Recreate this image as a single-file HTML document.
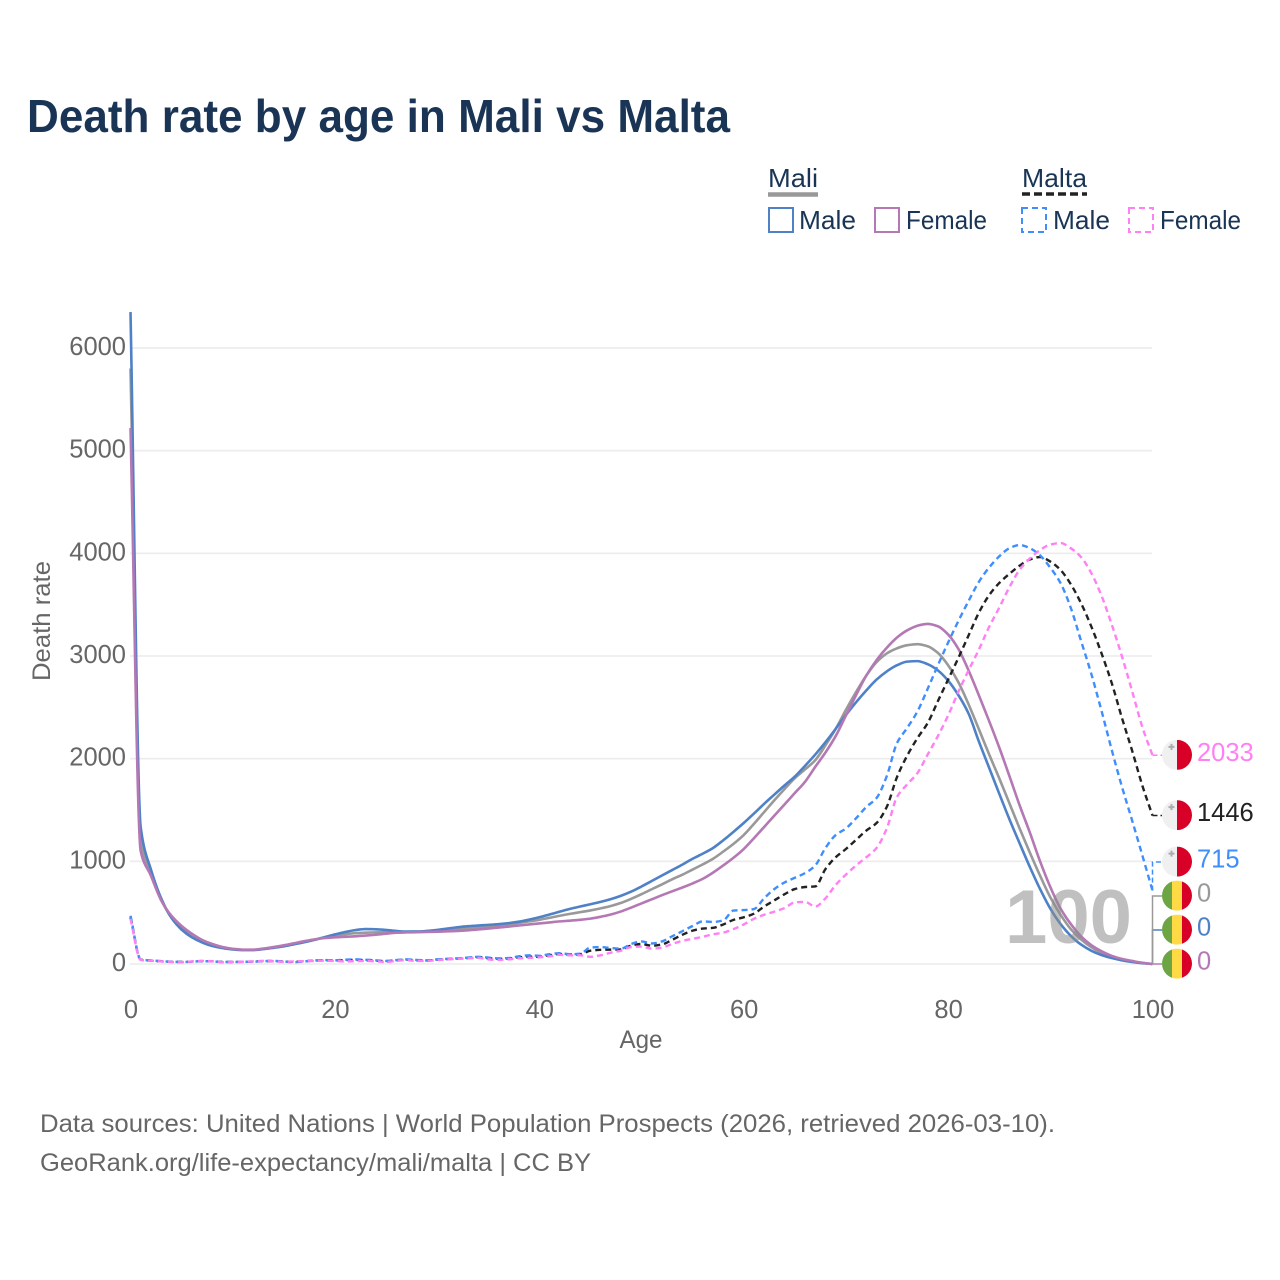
<!DOCTYPE html>
<html lang="en">
<head>
<meta charset="utf-8">
<title>Death rate by age in Mali vs Malta</title>
<style>
html,body{margin:0;padding:0;background:#fff;width:1280px;height:1280px;overflow:hidden}
svg{display:block;font-family:"Liberation Sans",sans-serif}
</style>
</head>
<body>
<svg id="chart" width="1280" height="1280" viewBox="0 0 1280 1280" xmlns="http://www.w3.org/2000/svg">
  <rect width="1280" height="1280" fill="#fff"/>
  <text x="27" y="132" font-size="46" font-weight="700" fill="#1a3455" textLength="703" lengthAdjust="spacingAndGlyphs">Death rate by age in Mali vs Malta</text>

  <g font-size="26" fill="#1a3455">
    <text x="768" y="187" textLength="50" lengthAdjust="spacingAndGlyphs">Mali</text>
    <line x1="768" x2="818" y1="194.5" y2="194.5" stroke="#999" stroke-width="4.5"/>
    <text x="1022" y="187" textLength="65" lengthAdjust="spacingAndGlyphs">Malta</text>
    <line x1="1022" x2="1087" y1="194" y2="194" stroke="#222" stroke-width="3.5" stroke-dasharray="8 4"/>
    <rect x="769" y="208" width="24" height="24" fill="none" stroke="#4f81c7" stroke-width="2"/>
    <text x="799" y="229" textLength="57" lengthAdjust="spacingAndGlyphs">Male</text>
    <rect x="875" y="208" width="24" height="24" fill="none" stroke="#b478b4" stroke-width="2"/>
    <text x="906" y="229" textLength="81" lengthAdjust="spacingAndGlyphs">Female</text>
    <rect x="1022" y="208" width="24" height="24" fill="none" stroke="#3f8efc" stroke-width="2" stroke-dasharray="6 4"/>
    <text x="1053" y="229" textLength="57" lengthAdjust="spacingAndGlyphs">Male</text>
    <rect x="1129" y="208" width="24" height="24" fill="none" stroke="#ff80f4" stroke-width="2" stroke-dasharray="6 4"/>
    <text x="1160" y="229" textLength="81" lengthAdjust="spacingAndGlyphs">Female</text>
  </g>

  <g id="grid"></g>
  <g id="yticks"></g>
  <g id="xticks"></g>
  <text transform="translate(50,621) rotate(-90)" text-anchor="middle" font-size="25" fill="#666" textLength="120" lengthAdjust="spacingAndGlyphs">Death rate</text>
  <text x="641" y="1048" text-anchor="middle" font-size="25" fill="#666" textLength="43" lengthAdjust="spacingAndGlyphs">Age</text>

  <g id="series"></g>
  <text x="1005" y="943" font-size="76" font-weight="700" fill="#8c8c8c" fill-opacity="0.55" textLength="127" lengthAdjust="spacingAndGlyphs">100</text>
  <g id="endlabels"></g>

  <text x="40" y="1132" font-size="25" fill="#666" textLength="1015" lengthAdjust="spacingAndGlyphs">Data sources: United Nations | World Population Prospects (2026, retrieved 2026-03-10).</text>
  <text x="40" y="1171" font-size="25" fill="#666" textLength="551" lengthAdjust="spacingAndGlyphs">GeoRank.org/life-expectancy/mali/malta | CC BY</text>
</svg>
<script>
const xTickValues = [0, 20, 40, 60, 80, 100];
const yTickValues = [0, 1000, 2000, 3000, 4000, 5000, 6000];

const maliTotal = [5800,1210,890,625,455,345,270,215,180,158,145,138,138,146,160,175,195,215,236,258,275,290,300,305,308,310,312,314,316,320,325,330,338,348,355,366,376,388,400,415,430,450,470,488,505,522,542,565,595,635,680,728,775,825,870,920,970,1025,1095,1170,1256,1365,1480,1595,1705,1810,1895,1985,2130,2290,2475,2650,2810,2940,3025,3075,3105,3115,3095,3030,2910,2745,2530,2290,2045,1810,1565,1320,1085,860,650,480,340,240,165,110,72,45,25,10,0];
const maliMale = [6350,1330,920,640,450,335,260,210,175,155,142,136,136,145,158,172,192,212,235,262,288,312,330,340,338,332,322,316,316,322,332,345,358,368,375,381,388,398,412,432,455,482,510,537,560,582,605,632,665,705,755,808,862,915,968,1025,1075,1130,1205,1287,1373,1465,1560,1650,1740,1825,1930,2040,2160,2290,2425,2550,2665,2770,2850,2910,2945,2950,2920,2860,2760,2620,2440,2170,1915,1660,1410,1175,945,730,540,390,275,190,130,88,58,36,20,8,0];
const maliFemale = [5220,1100,860,620,470,370,295,235,195,165,148,140,140,150,165,182,202,222,240,252,260,265,270,277,285,295,305,308,310,312,315,318,322,328,336,345,355,365,375,385,395,405,415,422,430,442,460,482,512,550,590,630,670,708,745,785,830,890,960,1035,1120,1225,1335,1445,1555,1665,1775,1920,2060,2220,2420,2620,2810,2960,3080,3180,3250,3295,3312,3290,3210,3070,2860,2620,2370,2110,1830,1545,1280,1000,750,540,390,270,185,125,80,50,30,12,0];
const maltaTotal = [455,42,33,26,22,20,24,28,26,20,20,22,24,28,28,24,22,26,33,36,34,38,40,38,32,28,36,42,36,34,42,48,52,58,66,56,50,52,65,72,70,85,98,92,95,130,138,140,142,180,195,178,190,235,285,325,345,352,385,430,455,490,560,620,680,730,750,755,925,1040,1120,1210,1300,1373,1530,1821,2030,2200,2347,2560,2770,2980,3200,3420,3590,3710,3800,3880,3940,3964,3920,3838,3700,3516,3290,3029,2740,2400,2080,1740,1446];
const maltaMale = [470,45,35,28,22,20,22,28,25,20,20,22,22,28,30,25,18,25,35,38,36,42,45,42,36,30,38,45,40,35,45,50,55,62,70,62,55,58,75,85,80,95,105,95,100,160,165,155,150,195,220,200,220,270,320,370,415,410,425,520,525,535,640,730,795,840,885,960,1130,1256,1320,1420,1530,1617,1830,2152,2300,2460,2680,2910,3130,3340,3535,3720,3860,3970,4050,4080,4050,3980,3860,3710,3470,3150,2830,2470,2090,1730,1400,1060,715];
const maltaFemale = [440,40,32,25,20,18,25,30,26,18,20,22,25,30,26,22,25,28,30,32,30,25,28,30,26,20,30,38,30,30,38,45,50,55,60,45,40,45,55,60,65,75,90,85,85,70,85,110,130,165,170,150,160,195,225,245,265,290,305,340,385,440,480,510,545,600,605,560,640,770,870,960,1040,1130,1320,1627,1750,1860,2040,2220,2420,2650,2860,3060,3280,3470,3670,3840,3950,4032,4085,4100,4050,3964,3810,3590,3310,3000,2660,2310,2033];

const NS = 'http://www.w3.org/2000/svg';
function xScale(age) { return 130.5 + age * 10.22; }
function yScale(v) { return 964 - v * 0.10267; }

const grid = document.getElementById('grid');
const yticks = document.getElementById('yticks');
const xticks = document.getElementById('xticks');
const seriesG = document.getElementById('series');
const labelsG = document.getElementById('endlabels');

function make(tag, attrs, parent) {
  const el = document.createElementNS(NS, tag);
  for (const k in attrs) el.setAttribute(k, attrs[k]);
  parent.appendChild(el);
  return el;
}

/* monotone cubic path through the data points */
function monotonePath(values) {
  const n = values.length;
  const ys = values.map(yScale);
  const h = xScale(1) - xScale(0);
  const sl = [];
  for (let i = 0; i < n - 1; i++) sl.push((ys[i + 1] - ys[i]) / h);
  const m = [sl[0]];
  for (let i = 1; i < n - 1; i++) {
    if (sl[i - 1] * sl[i] <= 0) m.push(0);
    else m.push(2 * sl[i - 1] * sl[i] / (sl[i - 1] + sl[i]));
  }
  m.push(sl[n - 2]);
  let d = 'M' + xScale(0).toFixed(2) + ' ' + ys[0].toFixed(2);
  for (let i = 0; i < n - 1; i++) {
    const x0 = xScale(i), x1 = xScale(i + 1);
    d += 'C' + (x0 + h / 3).toFixed(2) + ' ' + (ys[i] + m[i] * h / 3).toFixed(2) + ' ' +
         (x1 - h / 3).toFixed(2) + ' ' + (ys[i + 1] - m[i + 1] * h / 3).toFixed(2) + ' ' +
         x1.toFixed(2) + ' ' + ys[i + 1].toFixed(2);
  }
  return d;
}

yTickValues.forEach(function (v) {
  const line = make('line', { x1: 130, x2: 1152, y1: yScale(v), y2: yScale(v), stroke: '#ececec', 'stroke-width': 1.6 }, grid);
  
  
  const t = make('text', { x: 126, y: yScale(v) + 7, 'text-anchor': 'end', 'font-size': 25.5, fill: '#666' }, yticks);
  t.textContent = v;
  
  
});

xTickValues.forEach(function (a) {
  const t = make('text', { x: xScale(a) + 0.5, y: 1018, 'text-anchor': 'middle', 'font-size': 25.5, fill: '#666' }, xticks);
  t.textContent = a;
  
  
});

const seriesDefs = [
  { key: 'mali-total', values: maliTotal, color: '#999999', textColor: '#999999', dash: '', flag: 'mali', width: 2.6 },
  { key: 'mali-male', values: maliMale, color: '#4f81c7', textColor: '#4f81c7', dash: '', flag: 'mali', width: 2.6 },
  { key: 'mali-female', values: maliFemale, color: '#b478b4', textColor: '#b478b4', dash: '', flag: 'mali', width: 2.6 },
  { key: 'malta-total', values: maltaTotal, color: '#222222', textColor: '#222222', dash: '6 4', flag: 'malta', width: 2.4 },
  { key: 'malta-male', values: maltaMale, color: '#3f8efc', textColor: '#3f8efc', dash: '6 4', flag: 'malta', width: 2.4 },
  { key: 'malta-female', values: maltaFemale, color: '#ff80f4', textColor: '#ff80f4', dash: '6 4', flag: 'malta', width: 2.4 }
];

seriesDefs.forEach(function (s) {
  const p = make('path', { d: monotonePath(s.values), fill: 'none', stroke: s.color, 'stroke-width': s.width, 'stroke-linejoin': 'round' }, seriesG);
  if (s.dash) p.setAttribute('stroke-dasharray', s.dash);
  
  
});

const order = seriesDefs.map(function (s, i) { return { s: s, i: i }; }).sort(function (a, b) {
  const av = a.s.values[100], bv = b.s.values[100];
  return av === bv ? b.i - a.i : av - bv;
});

let prevY = Infinity;
order.forEach(function (o) {
  const s = o.s;
  const last = s.values[100];
  const yEnd = yScale(last);
  const yLab = Math.min(yEnd, prevY - 34) ;
  prevY = yLab;
  const xEnd = 1152.5;
  const conn = make('path', { d: 'M' + xEnd + ' ' + yEnd + 'L' + xEnd + ' ' + yLab + 'L1162 ' + yLab, fill: 'none', stroke: s.color, 'stroke-width': 1.5 }, labelsG);
  if (s.dash) conn.setAttribute('stroke-dasharray', '5 3');
  
  

  const cx = 1177, r = 15, cy = yLab - 0.4;
  const g = make('g', {}, labelsG);
  
  
  const clipId = 'clip-' + s.key;
  const cp = make('clipPath', { id: clipId }, g);
  make('circle', { cx: cx, cy: cy, r: r }, cp);
  const inner = make('g', { 'clip-path': 'url(#' + clipId + ')' }, g);
  const top = cy - r;
  if (s.flag === 'mali') {
    make('rect', { x: cx - r, y: top, width: 10, height: 30, fill: '#6da544' }, inner);
    make('rect', { x: cx - 5, y: top, width: 10, height: 30, fill: '#ffda44' }, inner);
    make('rect', { x: cx + 5, y: top, width: 10, height: 30, fill: '#d80027' }, inner);
  } else {
    make('rect', { x: cx - r, y: top, width: 15, height: 30, fill: '#f0f0f0' }, inner);
    make('rect', { x: cx, y: top, width: 15, height: 30, fill: '#d80027' }, inner);
    make('path', { d: 'M' + (cx - 5.5) + ' ' + (cy - 11) + 'v6M' + (cx - 8.5) + ' ' + (cy - 8) + 'h6', stroke: '#acabb1', 'stroke-width': 2 }, inner);
  }
  const t = make('text', { x: 1197, y: yLab + 5.5, 'font-size': 25.5, fill: s.textColor }, labelsG);
  t.textContent = last;
  
  
});
</script>
</body>
</html>
